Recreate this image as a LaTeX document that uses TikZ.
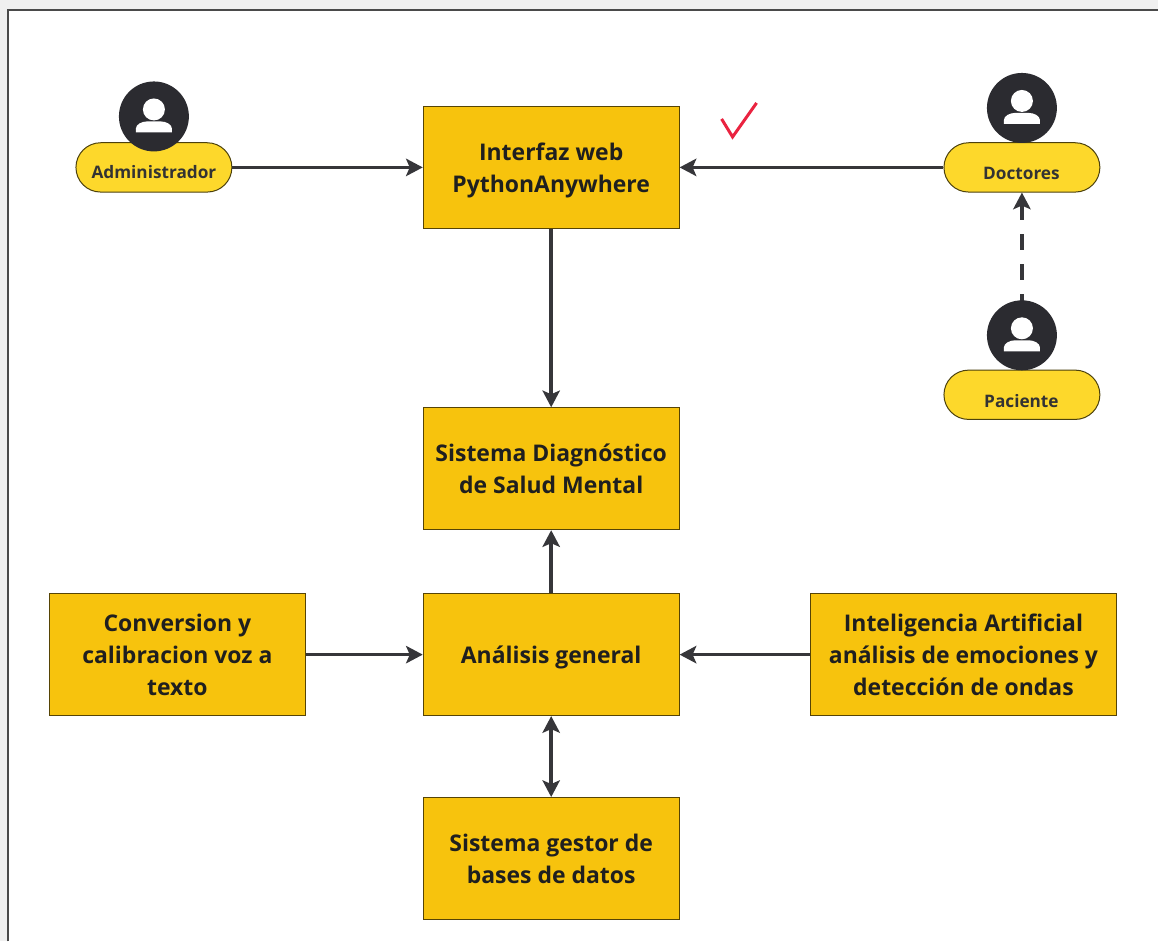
\documentclass[tikz,border=0pt]{standalone}
\usepackage{fontspec}
\setmainfont{Open Sans}
\usetikzlibrary{arrows.meta}
\definecolor{cajaamarilla}{HTML}{F7C30D}
\definecolor{pildora}{HTML}{FDD82B}
\definecolor{oscuro}{HTML}{2B2B30}
\definecolor{marco}{HTML}{4A4A4A}
\definecolor{fondo}{HTML}{F0F0F0}
\definecolor{rojo}{HTML}{EA2340}
\tikzset{caja/.style={rectangle, draw=black!65!cajaamarilla, fill=cajaamarilla, line width=.3mm,
         minimum width=7.68cm, minimum height=3.66cm, align=center, inner sep=0pt,
         font=\fontsize{19.6}{27.3}\bfseries, text=black!88, text depth=0pt},
         pill/.style={rectangle, rounded corners=.74cm, draw=black!70!pildora, fill=pildora, line width=.3mm,
         minimum width=4.68cm, minimum height=1.48cm, inner sep=0pt},
         etiqueta/.style={font=\fontsize{14.7}{16}\bfseries, text=black!80},
         puntaflecha/.tip={Stealth[length=5mm, width=5.2mm, inset=1.1mm]},
         flecha/.style={draw=oscuro!95!white, line width=1.05mm, -puntaflecha},
         persona/.pic={
           \fill[oscuro] (0,0) circle[radius=35];
           \fill[white] (0,-7) circle[radius=11];
           \fill[white] (-18,16) -- (-18,12) .. controls (-18,8) and (-12,5) .. (-7,5)
             -- (7,5) .. controls (12,5) and (18,8) .. (18,12) -- (18,16) -- cycle;
         }}

\begin{document}
\begin{tikzpicture}[x=.03cm, y=-.03cm]
    \fill[fondo] (0,0) rectangle (1159,942);
    \fill[white] (8,10) rectangle (1159,942);
    \draw[marco, line width=.4mm] (8,942) -- (8,10) -- (1159,10);
    \useasboundingbox (0,0) rectangle (1159,942);

    % cajas
    \node[caja] (interfaz) at (551.5,167.5) {Interfaz web\\PythonAnywhere};
    \node[caja] (sistema) at (551.5,469) {Sistema Diagnóstico\\de Salud Mental};
    \node[caja] (analisis) at (551.5,655) {Análisis general};
    \node[caja] (gestor) at (551.5,859) {Sistema gestor de\\bases de datos};
    \node[caja] (conversion) at (177.5,655) {Conversion y\\calibracion voz a\\texto};
    \node[caja, minimum width=9.21cm] (inteligencia) at (964,655) {Inteligencia Artificial\\análisis de emociones y\\detección de ondas};

    % usuarios
    \node[pill] (admin) at (154,167.5) {};
    \node[pill] (doctores) at (1022.5,167.5) {};
    \node[pill] (paciente) at (1022.5,395) {};

    \draw[flecha, dash pattern=on 4.65mm off 4.35mm] (paciente) -- (doctores);
    \pic at (154,116.5) {persona};
    \pic at (1022.5,108) {persona};
    \pic at (1022.5,335.5) {persona};
    \node[etiqueta] (adminlabel) at (154,172) {Administrador};
    \node[etiqueta] (doctoreslabel) at (1022,174) {Doctores};
    \node[etiqueta] (pacientelabel) at (1022,401.5) {Paciente};

    \draw[flecha] (admin) -- (interfaz);
    \draw[flecha] (doctores) -- (interfaz);
    \draw[flecha] (interfaz) -- (sistema);
    \draw[flecha] (analisis) -- (sistema);
    \draw[flecha] (conversion) -- (analisis);
    \draw[flecha] (inteligencia) -- (analisis);
    \draw[flecha, puntaflecha-puntaflecha] (analisis) -- (gestor);

    \draw[rojo, line width=.9mm, line join=miter] (722,119) -- (733,137) -- (757,103);
\end{tikzpicture}
\end{document}
